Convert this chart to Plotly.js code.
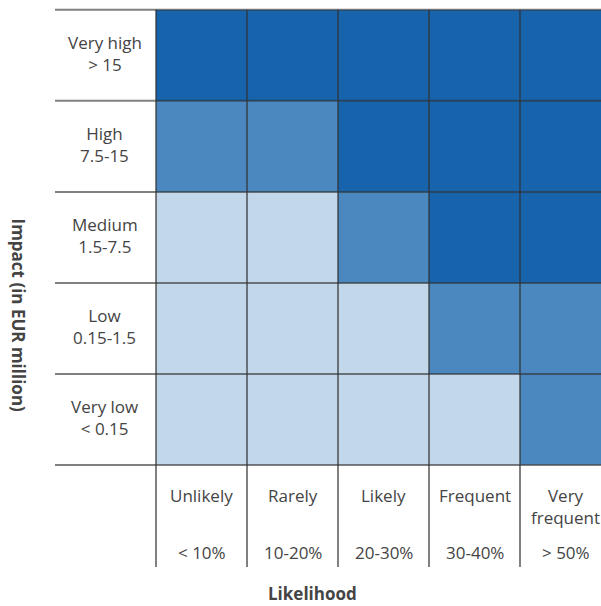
<!DOCTYPE html>
<html>
<head>
<meta charset="utf-8">
<script src="https://cdn.plot.ly/plotly-3.0.1.min.js"></script>
<style>
html,body{margin:0;padding:0;background:#fff;}
#chart{width:601px;height:606px;}
</style>
</head>
<body>
<div id="chart"></div>
<script>
// Categories
const likelihoodNames = ["Unlikely", "Rarely", "Likely", "Frequent", "Very<br>frequent"];
const likelihoodRanges = ["< 10%", "10-20%", "20-30%", "30-40%", "> 50%"];
// Impact rows, bottom to top
const impactNames = ["Very low", "Low", "Medium", "High", "Very high"];
const impactRanges = ["< 0.15", "0.15-1.5", "1.5-7.5", "7.5-15", "> 15"];
// Risk level per cell (1 = low, 2 = medium, 3 = high); rows bottom to top
const riskVeryLow  = [1, 1, 1, 1, 2];
const riskLow      = [1, 1, 1, 2, 2];
const riskMedium   = [1, 1, 2, 3, 3];
const riskHigh     = [2, 2, 3, 3, 3];
const riskVeryHigh = [3, 3, 3, 3, 3];

const colLow = "#c3d7eb", colMed = "#4a88bf", colHigh = "#1763ac";
const lineCol = "rgba(50,50,50,0.62)";
const textCol = "#444444";
const fontFam = "'Open Sans', 'Noto Sans', sans-serif";

const xIdx = likelihoodNames.map((_, i) => i);
const yIdx = impactNames.map((_, i) => i);

const trace = {
  type: "heatmap",
  x: xIdx,
  y: yIdx,
  z: [riskVeryLow, riskLow, riskMedium, riskHigh, riskVeryHigh],
  zmin: 1, zmax: 3,
  colorscale: [[0, colLow], [0.499, colLow], [0.5, colMed], [0.999, colMed], [1, colHigh]],
  showscale: false,
  hoverinfo: "skip"
};

const xMin = -1.61, xMax = 4.39, yMin = -1.62, yMax = 4.52;
const shapes = [];
// horizontal grid lines
for (let k = 0; k <= impactNames.length; k++) {
  shapes.push({type: "line", xref: "x", yref: "y", x0: xMin, x1: xMax + 1, y0: k - 0.5, y1: k - 0.5,
    line: {color: lineCol, width: 2}});
}
// vertical grid lines
for (let k = 0; k <= likelihoodNames.length; k++) {
  shapes.push({type: "line", xref: "x", yref: "y", x0: k - 0.5, x1: k - 0.5, y0: yMin, y1: 4.5,
    line: {color: lineCol, width: 2}});
}

const annotations = [];
const f = {family: fontFam, size: 17, color: textCol};
function lab(x, y, t, ya) {
  annotations.push({xref: "x", yref: "y", x: x, y: y, text: t, showarrow: false, font: f,
    align: "center", xanchor: "center", yanchor: ya || "middle"});
}
impactNames.forEach((n, j) => {
  lab(-1.066, j + 0.02, n + "<br>" + impactRanges[j]);
});
likelihoodNames.forEach((n, i) => {
  lab(i, -0.685, n, "top");
  lab(i, -1.462, likelihoodRanges[i]);
});
const bf = {family: fontFam, size: 17, color: textCol, weight: "bold"};
annotations.push({xref: "paper", yref: "paper", x: (17.5 - 55) / 546, y: (567 - 315) / 559,
  text: "<b>Impact (in EUR million)</b>", textangle: 90, showarrow: false, font: bf,
  xanchor: "center", yanchor: "middle"});
annotations.push({xref: "paper", yref: "paper", x: (312 - 55) / 546, y: (567 - 593) / 559,
  text: "<b>Likelihood</b>", showarrow: false, font: bf, xanchor: "center", yanchor: "middle"});

const layout = {
  width: 601, height: 606,
  margin: {l: 55, r: 0, t: 8, b: 39, pad: 0},
  paper_bgcolor: "#ffffff", plot_bgcolor: "#ffffff",
  xaxis: {range: [xMin, xMax], visible: false, fixedrange: true},
  yaxis: {range: [yMin, yMax], visible: false, fixedrange: true},
  shapes: shapes,
  annotations: annotations,
  showlegend: false
};

Plotly.newPlot("chart", [trace], layout, {staticPlot: true, displayModeBar: false});
</script>
</body>
</html>
